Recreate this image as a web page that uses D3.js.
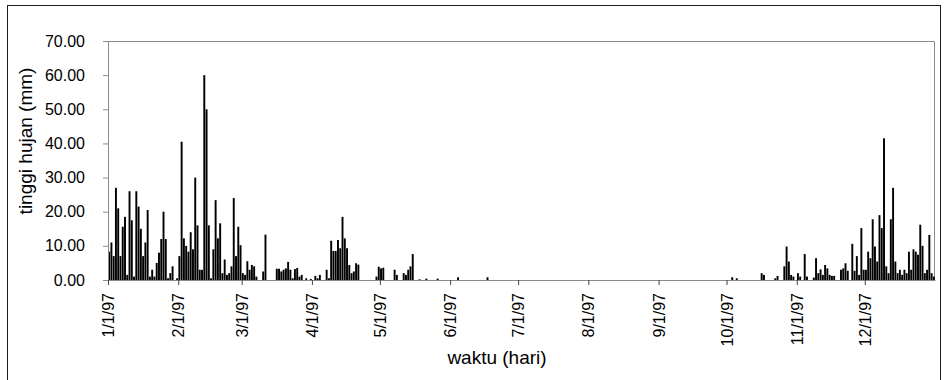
<!DOCTYPE html>
<html>
<head>
<meta charset="utf-8">
<script src="https://cdn.jsdelivr.net/npm/d3@7"></script>
<style>
    body { margin: 0; background: #fff; }
    #chart-area { width: 945px; height: 380px; }
    text { font-family: "Liberation Sans", Arial, sans-serif; fill: #000; }
</style>
</head>
<body>
<div id="chart-area"></div>
<script>
// daily rainfall (mm) 1997, one array per month
const rainJan = [8.3, 11, 7, 27, 21, 7, 15.6, 18.5, 1.5, 26, 17.5, 1, 26, 21.5, 15, 7, 11, 20.5, 1, 3, 1, 5, 8, 12, 20, 12, 0.5, 2, 4, 0, 0.5];
const rainFeb = [7, 40.5, 12.2, 10, 8.3, 14, 9, 30, 16, 3, 3, 60, 50, 16, 0.5, 9, 23.4, 12.2, 16.6, 2, 6, 1.5, 2, 4, 24, 7, 15.6, 10.2];
const rainMar = [2, 1.5, 5.5, 3, 4.4, 4, 1, 0, 0, 2.5, 13.3, 0, 0, 0, 0, 3.3, 3.3, 2.5, 3, 3.4, 5.3, 3, 0.5, 3.2, 3.5, 1, 1.5, 0, 0.5, 0, 0.3];
const rainApr = [0, 1.2, 0.5, 1.5, 0, 0, 3, 0.5, 11.5, 8.5, 8.5, 11.7, 9.3, 18.5, 12.2, 9.3, 4.4, 2, 2.5, 4.9, 4.5, 0, 0, 0, 0, 0, 0, 0, 1, 3.9];
const rainMay = [3.4, 3.6, 0, 0, 0, 0, 3, 1.5, 0, 0, 2, 1.5, 3, 4, 7.6, 0, 0, 0.2, 0, 0, 0.4, 0, 0, 0, 0, 0.4, 0, 0, 0, 0, 0];
const rainJun = [0, 0, 0, 0.8, 0, 0, 0, 0, 0, 0, 0, 0, 0, 0, 0, 0, 0.8, 0, 0, 0, 0, 0, 0, 0, 0, 0, 0, 0, 0, 0];
const rainJul = [0, 0, 0, 0, 0, 0, 0, 0, 0, 0, 0, 0, 0, 0, 0, 0, 0, 0, 0, 0, 0, 0, 0, 0, 0, 0, 0, 0, 0, 0, 0];
const rainAug = [0, 0, 0, 0, 0, 0, 0, 0, 0, 0, 0, 0, 0, 0, 0, 0, 0, 0, 0, 0, 0, 0, 0, 0, 0, 0, 0, 0, 0, 0, 0];
const rainSep = [0, 0, 0, 0, 0, 0, 0, 0, 0, 0, 0, 0, 0, 0, 0, 0, 0, 0, 0, 0, 0, 0, 0, 0, 0, 0, 0, 0, 0, 0];
const rainOct = [0, 0, 0.8, 0, 0.5, 0, 0, 0, 0, 0, 0, 0, 0, 0, 0, 2, 1.5, 0, 0, 0, 0, 0.5, 1.2, 0, 0, 4, 9.8, 5.4, 1.5, 1, 0];
const rainNov = [2, 1, 0, 7.6, 1, 0, 0, 0.7, 6.4, 2, 3.1, 1.5, 4.4, 3.4, 1.5, 1.2, 1.2, 0, 0, 3, 3.4, 4.9, 2.7, 0, 10.6, 2.7, 7, 1.5, 15.2, 3];
const rainDec = [3, 8.3, 6.4, 17.8, 9.8, 5.4, 19, 15.2, 41.5, 4, 2, 17.8, 27, 5.4, 2, 3, 1.5, 3, 2, 8.3, 3, 9, 8.3, 7.4, 16.2, 10, 2, 3, 13.2, 2, 1];

// tick labels on both axes
const monthLabels = ["1/1/97", "2/1/97", "3/1/97", "4/1/97", "5/1/97", "6/1/97",
    "7/1/97", "8/1/97", "9/1/97", "10/1/97", "11/1/97", "12/1/97"];
const yTicks = [0, 10, 20, 30, 40, 50, 60, 70];

class RainBarVis {
    constructor(_parentElement, _months) {
        this.parentElement = _parentElement;
        this.months = _months;
        this.initVis();
    }

    initVis() {
        const vis = this;

        vis.margin = { top: 41, right: 10, bottom: 100, left: 108 };
        vis.width = 827;
        vis.height = 239;

        vis.root = d3.select(`#${vis.parentElement}`)
            .append("svg")
            .attr("width", 945)
            .attr("height", 380);

        // outer chart border
        vis.root.append("rect")
            .attr("x", 7.5)
            .attr("y", 5.5)
            .attr("width", 933)
            .attr("height", 390)
            .attr("fill", "none")
            .attr("stroke", "#1a1a1a");

        vis.svg = vis.root.append("g")
            .attr("transform", `translate(${vis.margin.left},${vis.margin.top})`);

        // flatten month arrays into daily series
        vis.data = vis.months.flat();
        vis.monthStarts = d3.cumsum([0].concat(vis.months.slice(0, -1).map(m => m.length)));

        // scales
        vis.xScale = d3.scaleLinear().domain([0, vis.data.length]).range([0, vis.width]);
        vis.yScale = d3.scaleLinear().domain([0, 70]).range([vis.height, 0]);

        // plot area frame (top + right)
        vis.svg.append("path")
            .attr("d", `M0,0.5H${vis.width - 0.5}V${vis.height}`)
            .attr("fill", "none")
            .attr("stroke", "#8c8c8c");

        vis.updateVis();
    }

    updateVis() {
        const vis = this;
        const step = vis.xScale(1) - vis.xScale(0);
        const barW = step * 0.85;

        // bars
        vis.svg.selectAll(".bar")
            .data(vis.data)
            .enter()
            .append("rect")
            .attr("class", "bar")
            .attr("x", (d, i) => vis.xScale(i) + (step - barW) / 2)
            .attr("y", d => vis.yScale(d))
            .attr("width", barW)
            .attr("height", d => vis.height - vis.yScale(d))
            .attr("fill", "#000");

        // y axis
        const yAxis = d3.axisLeft(vis.yScale)
            .tickValues(yTicks)
            .tickFormat(d3.format(".2f"))
            .tickSize(5)
            .tickPadding(18);

        const yG = vis.svg.append("g").attr("class", "y-axis").call(yAxis);
        yG.select(".domain").attr("stroke", "#8c8c8c");
        yG.selectAll(".tick line").attr("stroke", "#8c8c8c");
        yG.selectAll("text").attr("font-size", "16px").attr("fill", "#000");

        // x axis, ticks at first day of each month
        const xAxis = d3.axisBottom(vis.xScale)
            .tickValues(vis.monthStarts)
            .tickFormat((d, i) => monthLabels[i])
            .tickSize(5)
            .tickSizeOuter(0);

        const xG = vis.svg.append("g")
            .attr("class", "x-axis")
            .attr("transform", `translate(0,${vis.height})`)
            .call(xAxis);
        xG.select(".domain").attr("stroke", "#8c8c8c");
        xG.selectAll(".tick line").attr("stroke", "#444");
        xG.selectAll("text")
            .attr("font-size", "16px")
            .attr("fill", "#000")
            .attr("text-anchor", "end")
            .attr("transform", "rotate(-90)")
            .attr("x", -13)
            .attr("y", 0)
            .attr("dy", "0.35em");

        // axis titles
        vis.svg.append("text")
            .attr("text-anchor", "middle")
            .attr("transform", "rotate(-90)")
            .attr("x", -100)
            .attr("y", -76)
            .attr("font-size", "19px")
            .text("tinggi hujan (mm)");

        vis.svg.append("text")
            .attr("text-anchor", "middle")
            .attr("x", 389)
            .attr("y", 323)
            .attr("font-size", "19px")
            .text("waktu (hari)");
    }
}

const rainVis = new RainBarVis("chart-area",
    [rainJan, rainFeb, rainMar, rainApr, rainMay, rainJun, rainJul, rainAug, rainSep, rainOct, rainNov, rainDec]);
</script>
</body>
</html>
